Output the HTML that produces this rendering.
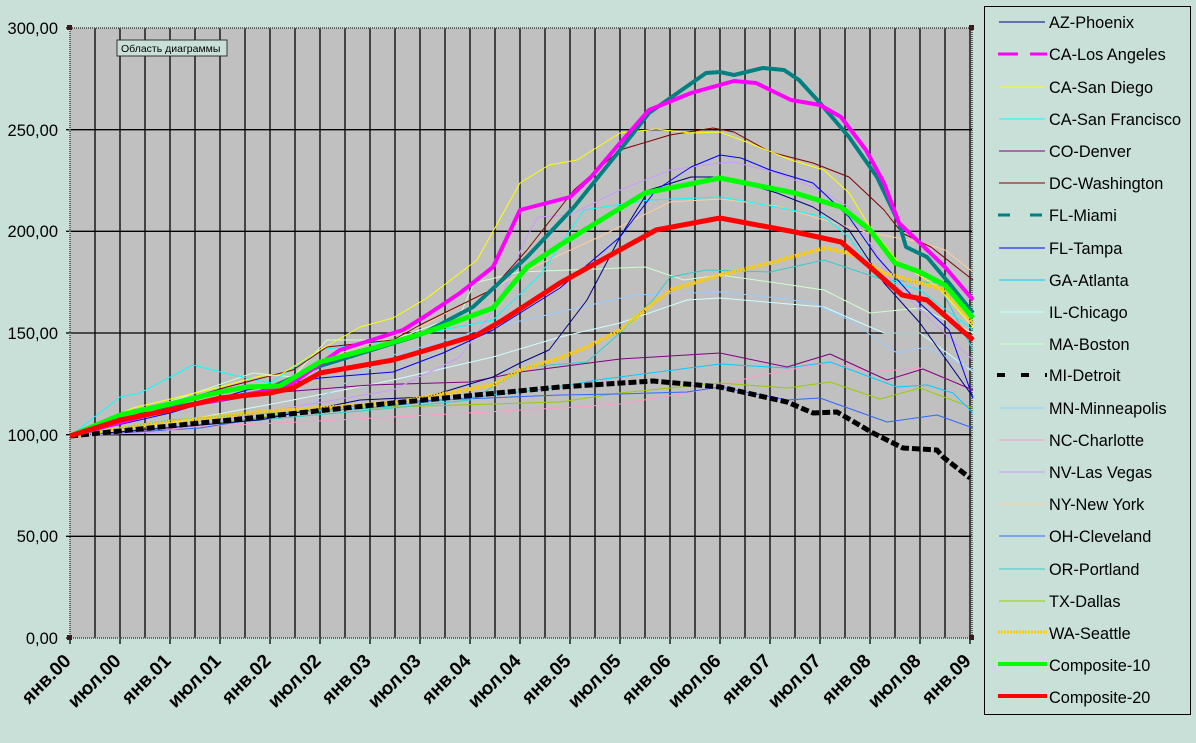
<!DOCTYPE html>
<html><head><meta charset="utf-8"><style>
html,body{margin:0;padding:0;background:#c8e0d8;}
svg{display:block;font-family:"Liberation Sans","DejaVu Sans",sans-serif;}
</style></head><body>
<svg width="1196" height="743" viewBox="0 0 1196 743" xmlns="http://www.w3.org/2000/svg">
<rect x="0" y="0" width="1196" height="743" fill="#c8e0d8"/>
<rect x="70" y="28" width="902" height="610" fill="#c0c0c0"/>
<g stroke="#000" stroke-width="1.3">
<line x1="95" y1="28" x2="95" y2="638"/><line x1="120" y1="28" x2="120" y2="638"/><line x1="145" y1="28" x2="145" y2="638"/><line x1="170" y1="28" x2="170" y2="638"/><line x1="195" y1="28" x2="195" y2="638"/><line x1="220" y1="28" x2="220" y2="638"/><line x1="245" y1="28" x2="245" y2="638"/><line x1="270" y1="28" x2="270" y2="638"/><line x1="295" y1="28" x2="295" y2="638"/><line x1="320" y1="28" x2="320" y2="638"/><line x1="345" y1="28" x2="345" y2="638"/><line x1="370" y1="28" x2="370" y2="638"/><line x1="395" y1="28" x2="395" y2="638"/><line x1="420" y1="28" x2="420" y2="638"/><line x1="445" y1="28" x2="445" y2="638"/><line x1="470" y1="28" x2="470" y2="638"/><line x1="495" y1="28" x2="495" y2="638"/><line x1="520" y1="28" x2="520" y2="638"/><line x1="545" y1="28" x2="545" y2="638"/><line x1="570" y1="28" x2="570" y2="638"/><line x1="595" y1="28" x2="595" y2="638"/><line x1="620" y1="28" x2="620" y2="638"/><line x1="645" y1="28" x2="645" y2="638"/><line x1="670" y1="28" x2="670" y2="638"/><line x1="695" y1="28" x2="695" y2="638"/><line x1="720" y1="28" x2="720" y2="638"/><line x1="745" y1="28" x2="745" y2="638"/><line x1="770" y1="28" x2="770" y2="638"/><line x1="795" y1="28" x2="795" y2="638"/><line x1="820" y1="28" x2="820" y2="638"/><line x1="845" y1="28" x2="845" y2="638"/><line x1="870" y1="28" x2="870" y2="638"/><line x1="895" y1="28" x2="895" y2="638"/><line x1="920" y1="28" x2="920" y2="638"/><line x1="945" y1="28" x2="945" y2="638"/><line x1="970" y1="28" x2="970" y2="638"/>
<line x1="70" y1="536.3" x2="972" y2="536.3"/><line x1="70" y1="434.7" x2="972" y2="434.7"/><line x1="70" y1="333" x2="972" y2="333"/><line x1="70" y1="231.3" x2="972" y2="231.3"/><line x1="70" y1="129.7" x2="972" y2="129.7"/>
<line x1="66" y1="28" x2="70" y2="28"/><line x1="66" y1="129.7" x2="70" y2="129.7"/><line x1="66" y1="231.3" x2="70" y2="231.3"/><line x1="66" y1="333" x2="70" y2="333"/><line x1="66" y1="434.7" x2="70" y2="434.7"/><line x1="66" y1="536.3" x2="70" y2="536.3"/><line x1="66" y1="638" x2="70" y2="638"/>
<line x1="70" y1="638" x2="70" y2="644"/><line x1="120" y1="638" x2="120" y2="644"/><line x1="170" y1="638" x2="170" y2="644"/><line x1="220" y1="638" x2="220" y2="644"/><line x1="270" y1="638" x2="270" y2="644"/><line x1="320" y1="638" x2="320" y2="644"/><line x1="370" y1="638" x2="370" y2="644"/><line x1="420" y1="638" x2="420" y2="644"/><line x1="470" y1="638" x2="470" y2="644"/><line x1="520" y1="638" x2="520" y2="644"/><line x1="570" y1="638" x2="570" y2="644"/><line x1="620" y1="638" x2="620" y2="644"/><line x1="670" y1="638" x2="670" y2="644"/><line x1="720" y1="638" x2="720" y2="644"/><line x1="770" y1="638" x2="770" y2="644"/><line x1="820" y1="638" x2="820" y2="644"/><line x1="870" y1="638" x2="870" y2="644"/><line x1="920" y1="638" x2="920" y2="644"/><line x1="970" y1="638" x2="970" y2="644"/>
</g>
<rect x="70" y="28" width="902" height="610" fill="none" stroke="#666" stroke-width="2" stroke-dasharray="1,1"/>
<g fill="#3a1a1a"><rect x="67" y="25" width="5" height="5"/><rect x="67" y="635" width="5" height="5"/><rect x="969" y="25" width="5" height="5"/><rect x="969" y="635" width="5" height="5"/></g>

<g fill="none" stroke-linejoin="round">
<polyline stroke="#ccffff" stroke-width="1" points="70,436 160,425 293,400 393,380 493,357 560,337 620,323 687,300 720,298 777,303 824,307 884,333 920,333 973,372"/>
<polyline stroke="#ccffcc" stroke-width="1" points="70,436 160,405 253,373 293,377 327,340 393,340 460,315 474,283 520,272 570,270 645,267 684,280 720,275 777,283 824,290 870,313 920,308 973,333"/>
<polyline stroke="#99ccff" stroke-width="1" points="70,436 200,425 300,410 393,355 480,330 560,312 634,295 720,292 777,298 813,303 849,320 897,353 927,347 973,370"/>
<polyline stroke="#ff99cc" stroke-width="1" points="70,436 193,427 300,422 393,417 560,408 620,404 687,393 753,377 830,362 870,372 920,368 973,390"/>
<polyline stroke="#99cc00" stroke-width="1" points="70,436 200,425 300,412 393,407 560,402 620,393 720,383 787,388 830,382 880,399 920,388 973,408"/>
<polyline stroke="#3366ff" stroke-width="1" points="70,436 200,428 300,412 393,402 560,395 620,394 687,392 720,387 787,400 820,398 887,422 937,415 973,428"/>
<polyline stroke="#800080" stroke-width="1" points="70,436 170,410 270,393 370,385 470,382 520,372 620,359 720,353 787,367 830,354 887,380 923,369 973,390"/>
<polyline stroke="#00ccff" stroke-width="1" points="70,436 170,420 270,413 370,408 493,395 560,387 597,380 720,364 787,368 830,362 870,377 897,387 927,385 953,393 973,413"/>
<polyline stroke="#33cccc" stroke-width="1" points="70,436 260,420 393,408 470,400 527,367 587,362 620,333 653,300 670,277 706,270 770,272 824,260 884,280 938,283 973,350"/>
<polyline stroke="#cc99ff" stroke-width="1" points="70,436 160,432 293,407 393,390 460,357 500,300 525,240 538,217 570,215 620,190 670,170 720,163 734,162 777,173 820,190 849,207 870,243 891,280 920,310 973,360"/>
<polyline stroke="#ffcc99" stroke-width="1" points="70,436 170,410 270,390 320,360 420,327 527,270 599,237 670,202 720,199 777,206 824,220 866,232 920,242 945,250 973,272"/>
<polyline stroke="#00ffff" stroke-width="1" points="70,436 120,397 140,393 193,365 233,375 270,383 320,350 393,340 493,320 540,275 584,210 649,200 720,197 777,207 824,217 849,237 877,277 920,290 973,330"/>
<polyline stroke="#000080" stroke-width="1" points="70,436 260,420 360,400 427,397 493,377 520,363 549,350 587,300 620,237 649,190 691,177 720,177 741,182 777,193 813,207 849,230 884,283 920,323 973,397"/>
<polyline stroke="#0000ff" stroke-width="1" points="70,436 170,413 247,390 320,378 393,372 443,353 493,330 560,288 620,237 656,190 691,167 720,155 741,158 770,170 813,183 849,217 877,257 913,297 949,330 973,398"/>
<polyline stroke="#800000" stroke-width="1" points="70,436 160,407 227,387 293,370 327,347 393,340 420,325 491,290 527,250 574,190 620,150 670,135 713,128 734,132 770,152 813,163 849,177 884,210 902,233 931,247 973,280"/>
<polyline stroke="#ffff00" stroke-width="1" points="70,436 133,408 220,387 260,376 280,375 320,350 360,327 393,318 427,298 477,260 520,183 549,165 577,160 620,133 656,129 691,133 720,132 749,143 791,160 824,170 849,193 870,227 899,263 938,287 973,327"/>
<polyline stroke="#ffcc00" stroke-width="4" stroke-dasharray="2,1" points="70,436 160,423 260,412 393,403 493,385 520,370 560,358 587,347 620,330 670,290 720,275 770,263 824,248 849,253 884,273 920,283 945,290 973,323"/>
<polyline stroke="#000" stroke-width="5" stroke-dasharray="8,3" points="70,436 260,417 393,403 560,387 653,381 720,387 787,402 813,413 837,412 873,433 903,448 937,450 943,457 970,478"/>
<polyline stroke="#008080" stroke-width="4" points="70,436 170,408 260,392 320,366 420,335 473,307 527,257 574,207 620,150 649,113 706,73 720,72 734,75 763,68 784,70 799,80 820,103 849,137 877,177 899,223 906,247 927,257 949,283 973,313"/>
<polyline stroke="#ff00ff" stroke-width="4" points="70,436 170,409 287,387 340,350 403,330 427,315 460,293 493,267 520,210 570,197 591,177 620,143 649,110 691,93 734,81 756,83 791,100 820,105 841,117 866,150 884,183 899,223 920,243 945,267 973,300"/>
<polyline stroke="#00ff00" stroke-width="5" points="70,436 120,415 170,404 220,392 247,387 280,386 320,362 377,347 427,332 493,308 527,267 560,245 645,193 720,178 795,193 841,207 870,230 895,263 920,272 945,285 973,318"/>
<polyline stroke="#ff0000" stroke-width="5" points="70,436 120,420 170,410 220,398 270,393 293,388 320,373 393,360 427,350 477,335 503,320 560,283 656,230 720,218 795,232 841,242 870,267 902,295 927,300 973,340"/>
</g>

<rect x="117" y="40" width="110" height="16" fill="#c8e0d8" stroke="#333" stroke-width="1"/>
<text x="121" y="52" font-size="10.5" fill="#000">Область диаграммы</text>

<g font-size="16.5" fill="#000" text-anchor="end">
<text x="58" y="34">300,00</text><text x="58" y="136">250,00</text><text x="58" y="237">200,00</text><text x="58" y="339">150,00</text><text x="58" y="441">100,00</text><text x="58" y="542">50,00</text><text x="58" y="644">0,00</text>
</g>
<g font-size="19" font-weight="bold" fill="#000" text-anchor="end">
<text transform="translate(72,662) rotate(-45)">янв.00</text><text transform="translate(122,662) rotate(-45)">июл.00</text><text transform="translate(172,662) rotate(-45)">янв.01</text><text transform="translate(222,662) rotate(-45)">июл.01</text><text transform="translate(272,662) rotate(-45)">янв.02</text><text transform="translate(322,662) rotate(-45)">июл.02</text><text transform="translate(372,662) rotate(-45)">янв.03</text><text transform="translate(422,662) rotate(-45)">июл.03</text><text transform="translate(472,662) rotate(-45)">янв.04</text><text transform="translate(522,662) rotate(-45)">июл.04</text><text transform="translate(572,662) rotate(-45)">янв.05</text><text transform="translate(622,662) rotate(-45)">июл.05</text><text transform="translate(672,662) rotate(-45)">янв.06</text><text transform="translate(722,662) rotate(-45)">июл.06</text><text transform="translate(772,662) rotate(-45)">янв.07</text><text transform="translate(822,662) rotate(-45)">июл.07</text><text transform="translate(872,662) rotate(-45)">янв.08</text><text transform="translate(922,662) rotate(-45)">июл.08</text><text transform="translate(972,662) rotate(-45)">янв.09</text>
</g>

<rect x="984.5" y="6.5" width="206" height="708" fill="#c8e0d8" stroke="#000" stroke-width="1"/>
<g font-size="16.3" fill="#000">
<line x1="999" y1="22" x2="1045" y2="22" stroke="#000080"/><text x="1049" y="28">AZ-Phoenix</text>
<line x1="998" y1="54" x2="1047" y2="54" stroke="#ff00ff" stroke-width="3" stroke-dasharray="20,12"/><text x="1049" y="60">CA-Los Angeles</text>
<line x1="999" y1="87" x2="1045" y2="87" stroke="#ffff00"/><text x="1049" y="93">CA-San Diego</text>
<line x1="999" y1="119" x2="1045" y2="119" stroke="#00ffff"/><text x="1049" y="125">CA-San Francisco</text>
<line x1="999" y1="151" x2="1045" y2="151" stroke="#800080"/><text x="1049" y="157">CO-Denver</text>
<line x1="999" y1="183" x2="1045" y2="183" stroke="#800000"/><text x="1049" y="189">DC-Washington</text>
<line x1="998" y1="215" x2="1047" y2="215" stroke="#008080" stroke-width="3" stroke-dasharray="12,20"/><text x="1049" y="221">FL-Miami</text>
<line x1="999" y1="248" x2="1045" y2="248" stroke="#0000ff"/><text x="1049" y="254">FL-Tampa</text>
<line x1="999" y1="280" x2="1045" y2="280" stroke="#00ccff"/><text x="1049" y="286">GA-Atlanta</text>
<line x1="999" y1="312" x2="1045" y2="312" stroke="#ccffff"/><text x="1049" y="318">IL-Chicago</text>
<line x1="999" y1="344" x2="1045" y2="344" stroke="#ccffcc"/><text x="1049" y="350">MA-Boston</text>
<line x1="997" y1="375" x2="1047" y2="375" stroke="#000" stroke-width="4" stroke-dasharray="8,16"/><text x="1049" y="381">MI-Detroit</text>
<line x1="999" y1="408" x2="1045" y2="408" stroke="#99ccff"/><text x="1049" y="414">MN-Minneapolis</text>
<line x1="999" y1="440" x2="1045" y2="440" stroke="#ff99cc"/><text x="1049" y="446">NC-Charlotte</text>
<line x1="999" y1="472" x2="1045" y2="472" stroke="#cc99ff"/><text x="1049" y="478">NV-Las Vegas</text>
<line x1="999" y1="504" x2="1045" y2="504" stroke="#ffcc99"/><text x="1049" y="510">NY-New York</text>
<line x1="999" y1="536" x2="1045" y2="536" stroke="#3366ff"/><text x="1049" y="542">OH-Cleveland</text>
<line x1="999" y1="569" x2="1045" y2="569" stroke="#33cccc"/><text x="1049" y="575">OR-Portland</text>
<line x1="999" y1="601" x2="1045" y2="601" stroke="#99cc00"/><text x="1049" y="607">TX-Dallas</text>
<line x1="998" y1="632" x2="1047" y2="632" stroke="#ffcc00" stroke-width="3" stroke-dasharray="2,1"/><text x="1049" y="639">WA-Seattle</text>
<line x1="998" y1="664" x2="1047" y2="664" stroke="#00ff00" stroke-width="4"/><text x="1049" y="671">Composite-10</text>
<line x1="998" y1="696" x2="1047" y2="696" stroke="#ff0000" stroke-width="4"/><text x="1049" y="703">Composite-20</text>
</g>
</svg>
</body></html>
